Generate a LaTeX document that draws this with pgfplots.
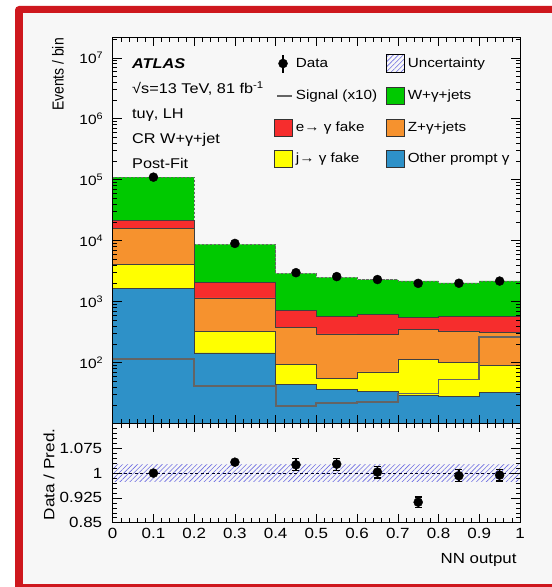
\documentclass[border=0pt]{standalone}
\usepackage{pgfplots}
\pgfplotsset{compat=1.18}
\usepackage{pgfplotstable}
\usepackage{graphicx}
\usepackage{fontspec}
\setmainfont{Liberation Sans}[FakeStretch=1.15]
\usetikzlibrary{patterns.meta}

\definecolor{frame}{RGB}{206,24,30}
\definecolor{bg}{RGB}{247,247,247}
\definecolor{cW}{RGB}{0,201,0}
\definecolor{cE}{RGB}{246,45,45}
\definecolor{cZ}{RGB}{246,146,46}
\definecolor{cJ}{RGB}{255,255,0}
\definecolor{cO}{RGB}{46,145,200}
\definecolor{cSig}{RGB}{100,100,100}
\definecolor{cUnc}{RGB}{110,110,225}

% cumulative stack heights per bin (low edge), last row closes the final bin
% tot = W+gamma+jets top, ephot = e->gamma top, zjets = Z+gamma top,
% jfake = j->gamma top, other = other prompt gamma, sig = signal x10
\pgfplotstableread{
x    tot     ephot   zjets   jfake   other   sig
0.0  1.10e5  2.15e4  1.57e4  4080    1630    116
0.2  8700    2090    1150    326     144     40.9
0.4  2910    719     379     92.6    43.5    19.2
0.5  2500    574     294     54.7    36.5    21.5
0.6  2290    612     291     70.6    33.4    22.6
0.7  2180    553     351     112     29.1    31
0.8  2020    574     330     102     28      52.6
0.9  2180    574     316     90      32      263
1.0  2180    574     316     90      32      263
}\stack

% observed events and data/prediction ratio per bin centre
\pgfplotstableread{
x     data    ratio  err
0.10  1.10e5  1.000  0.003
0.30  9000    1.033  0.006
0.45  2980    1.025  0.018
0.55  2570    1.027  0.018
0.65  2300    1.003  0.018
0.75  1990    0.912  0.016
0.85  2000    0.992  0.018
0.95  2170    0.994  0.018
}\data

\pgfplotsset{
  rootaxis/.style={
    scale only axis, width=407.3bp,
    xmin=0, xmax=1,
    axis background/.style={fill=bg},
    axis on top,
    tick align=inside,
    major tick length=9bp, minor tick length=4.5bp,
    every tick/.style={black, line width=0.5pt},
    axis line style={line width=0.7pt},
    xtick={0,0.1,0.2,0.3,0.4,0.5,0.6,0.7,0.8,0.9,1},
    minor x tick num=4,
  },
  hist/.style={const plot mark left, draw=black!75, line width=0.45pt},
}

\begin{document}
\begin{tikzpicture}
\useasboundingbox (0,0) rectangle (552bp,587bp);
\fill[white] (0,0) rectangle (552bp,587bp);
\fill[frame, rounded corners=4bp] (15bp,-8bp) rectangle (566bp,581bp);
\fill[bg] (23bp,3bp) rectangle (566bp,573.5bp);

% main panel
\begin{axis}[rootaxis,
  at={(112.7bp,163.5bp)}, anchor=south west,
  height=386bp,
  ymode=log, ymin=10, ymax=2.15e7,
  ytick={10,100,1000,10000,100000,1000000,10000000},
  minor ytick={20,30,40,50,60,70,80,90,
    200,300,400,500,600,700,800,900,
    2000,3000,4000,5000,6000,7000,8000,9000,
    2e4,3e4,4e4,5e4,6e4,7e4,8e4,9e4,
    2e5,3e5,4e5,5e5,6e5,7e5,8e5,9e5,
    2e6,3e6,4e6,5e6,6e6,7e6,8e6,9e6,2e7},
  yticklabels={{},10\textsuperscript{2},10\textsuperscript{3},10\textsuperscript{4},10\textsuperscript{5},10\textsuperscript{6},10\textsuperscript{7}},
  xticklabels={},
  yticklabel style={font=\fontsize{13.5}{16}\selectfont, xshift=-6bp},
  legend columns=2,
  legend cell align=left,
  legend style={at={(0.395,0.958)}, anchor=north west, draw=none, fill=none,
    font=\fontsize{13.3}{16}\selectfont, row sep=14bp, inner sep=0pt,
    /tikz/every odd column/.append style={column sep=1bp},
    /tikz/every even column/.append style={column sep=7bp}},
]
\addlegendimage{legend image code/.code={\draw[black, line width=1.2pt] (9bp,-9bp) -- (9bp,9bp); \fill[black] (9bp,0bp) circle (4.5bp);}}
\addlegendentry{Data}
\addlegendimage{legend image code/.code={\fill[pattern={Lines[angle=45,distance=3.5bp,line width=0.6bp]}, pattern color=cUnc] (0bp,-9bp) rectangle (18bp,9bp);}}
\addlegendentry{Uncertainty}
\addlegendimage{legend image code/.code={\draw[cSig, line width=1.8pt] (3bp,0bp) -- (18bp,0bp);}}
\addlegendentry{Signal (x10)}
\addlegendimage{legend image code/.code={\draw[fill=cW, draw=black!80, line width=0.5pt] (0bp,-8.5bp) rectangle (18bp,8.5bp);}}
\addlegendentry{W+γ+jets}
\addlegendimage{legend image code/.code={\draw[fill=cE, draw=black!80, line width=0.5pt] (0bp,-8.5bp) rectangle (18bp,8.5bp);}}
\addlegendentry{e→ γ fake}
\addlegendimage{legend image code/.code={\draw[fill=cZ, draw=black!80, line width=0.5pt] (0bp,-8.5bp) rectangle (18bp,8.5bp);}}
\addlegendentry{Z+γ+jets}
\addlegendimage{legend image code/.code={\draw[fill=cJ, draw=black!80, line width=0.5pt] (0bp,-8.5bp) rectangle (18bp,8.5bp);}}
\addlegendentry{j→ γ fake}
\addlegendimage{legend image code/.code={\draw[fill=cO, draw=black!80, line width=0.5pt] (0bp,-8.5bp) rectangle (18bp,8.5bp);}}
\addlegendentry{Other prompt γ}

\addplot[hist, fill=cW, draw=black!60, dash pattern=on 2.5bp off 1.5bp, forget plot] table[x=x, y=tot] {\stack} \closedcycle;
\addplot[hist, fill=cE, forget plot] table[x=x, y=ephot] {\stack} \closedcycle;
\addplot[hist, fill=cZ, forget plot] table[x=x, y=zjets] {\stack} \closedcycle;
\addplot[hist, fill=cJ, forget plot] table[x=x, y=jfake] {\stack} \closedcycle;
\addplot[hist, fill=cO, forget plot] table[x=x, y=other] {\stack} \closedcycle;
\addplot[const plot mark left, cSig, line width=1.8pt, forget plot] table[x=x, y=sig] {\stack};
\addplot[only marks, mark=*, mark size=4.5bp, black, forget plot] table[x=x, y=data] {\data};
\end{axis}

% ratio panel
\begin{axis}[rootaxis,
  at={(112.7bp,64.3bp)}, anchor=south west,
  height=99.2bp,
  ymin=0.85, ymax=1.15,
  ytick={0.85,0.925,1,1.075,1.15},
  yticklabels={0.85,0.925,1,1.075,{}},
  minor y tick num=4,
  xticklabels={0,0.1,0.2,0.3,0.4,0.5,0.6,0.7,0.8,0.9,1},
  yticklabel style={font=\fontsize{14.8}{17}\selectfont, xshift=-7bp},
  xticklabel style={font=\fontsize{14.8}{17}\selectfont, yshift=-2bp},
]
\addplot[draw=none, pattern={Lines[angle=45,distance=3.5bp,line width=0.6bp]}, pattern color=cUnc]
  coordinates {(0,0.975) (1,0.975) (1,1.025) (0,1.025)} -- cycle;
\addplot[black!85!blue, line width=0.9pt, dash pattern=on 3bp off 2.5bp] coordinates {(0,1) (1,1)};
\addplot[only marks, mark=*, mark size=4.5bp, black,
  error bars/.cd, y dir=both, y explicit,
  error bar style={line width=1.2pt},
  error mark options={rotate=90, mark size=3.5bp, line width=1.2pt}]
  table[x=x, y=ratio, y error=err] {\data};
\end{axis}

% titles
\node[rotate=90, anchor=east, inner sep=0pt, font=\fontsize{16}{18}\selectfont] at (58bp,549bp) {\scalebox{0.76}[1]{Events / bin}};
\node[rotate=90, anchor=east, font=\fontsize{15}{17}\selectfont] at (49bp,162bp) {Data / Pred.};
\node[anchor=east, font=\fontsize{14.7}{17}\selectfont] at (520bp,27bp) {NN output};

% labels inside the main panel
\begin{scope}[every node/.style={anchor=base west, inner sep=0pt, font=\fontsize{14.2}{17}\selectfont}]
\node[font=\fontsize{14.2}{17}\selectfont\bfseries\itshape] at (132bp,518bp) {ATLAS};
\node at (132bp,493bp) {√s=13 TeV, 81 fb\textsuperscript{-1}};
\node at (132bp,468bp) {tuγ, LH};
\node at (132bp,443bp) {CR W+γ+jet};
\node at (132bp,418bp) {Post-Fit};
\end{scope}
\end{tikzpicture}
\end{document}
